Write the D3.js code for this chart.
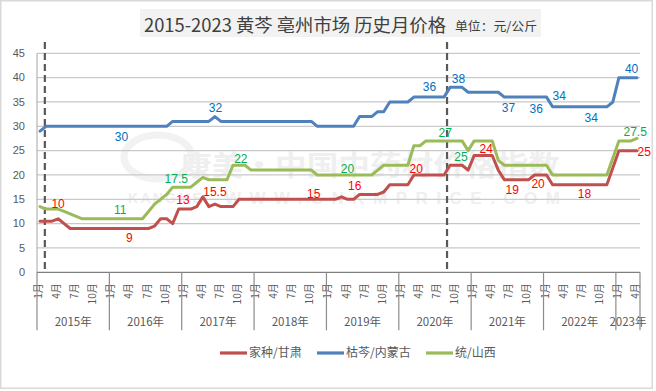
<!DOCTYPE html>
<html>
<head>
<meta charset="utf-8">
<script src="https://cdn.jsdelivr.net/npm/d3@7/dist/d3.min.js"></script>
<style>
  html, body { margin: 0; padding: 0; background: #fff; }
  svg { display: block; font-family: "Liberation Sans", Arial, "Noto Sans CJK SC", sans-serif; }
</style>
</head>
<body>
<svg id="chart" width="656" height="391"></svg>
<script>
// monthly prices, Jan 2015 .. Apr 2023 (yuan / kg)
const years = ['2015', '2016', '2017', '2018', '2019', '2020', '2021', '2022', '2023'];
const monthsPerYear = [12, 12, 12, 12, 12, 12, 12, 12, 4];
const monthTicks = { 1: '1月', 4: '4月', 7: '7月', 10: '10月' };

const jiazhong = [
  10.5, 10.5, 10.5, 11, 10, 9, 9, 9, 9, 9, 9, 9,
  9, 9, 9, 9, 9, 9, 9, 9.5, 11, 11, 10, 13,
  13, 13, 13.5, 15.5, 13.5, 14, 13.5, 13.5, 13.5, 15, 15, 15,
  15, 15, 15, 15, 15, 15, 15, 15, 15, 15, 15, 15,
  15, 15, 15.5, 15, 15, 16, 16, 16, 16, 16.5, 18, 18,
  18, 18, 20, 20, 20, 20, 20, 20, 22, 22, 22, 21,
  24, 24, 24, 24, 21, 19, 19, 19, 19, 19, 20, 20,
  20, 18, 18, 18, 18, 18, 18, 18, 18, 18, 18, 21.5,
  25, 25, 25, 25
];
const kuqin = [
  29, 30, 30, 30, 30, 30, 30, 30, 30, 30, 30, 30,
  30, 30, 30, 30, 30, 30, 30, 30, 30, 30, 31, 31,
  31, 31, 31, 31, 31, 32, 31, 31, 31, 31, 31, 31,
  31, 31, 31, 31, 31, 31, 31, 31, 31, 31, 30, 30,
  30, 30, 30, 30, 30, 32, 32, 32, 33, 33, 35, 35,
  35, 35, 36, 36, 36, 36, 36, 36, 38, 38, 38, 37,
  37, 37, 37, 37, 37, 36, 36, 36, 36, 36, 36, 36,
  36, 34, 34, 34, 34, 34, 34, 34, 34, 34, 34, 35,
  40, 40, 40, 40
];
const tong = [
  13.5, 13, 13, 13, 12.5, 12, 11.5, 11, 11, 11, 11, 11,
  11, 11, 11, 11, 11, 11, 12.5, 14, 15, 16, 17.5, 17.5,
  17.5, 17.5, 18.5, 19.5, 19, 19, 19, 19, 22, 22, 22, 21,
  21, 21, 21, 21, 21, 21, 21, 21, 21, 21, 20, 20,
  20, 20, 20, 20, 20, 20, 20, 20, 21, 22, 22, 22,
  22, 22, 26, 26, 27, 27, 27, 27, 27, 27, 27, 25,
  27, 27, 27, 27, 23, 22, 22, 22, 22, 22, 22, 22,
  22, 20, 20, 20, 20, 20, 20, 20, 20, 20, 20, 23.5,
  27, 27, 27, 27.5
];

const seriesNames = ['家种/甘肃', '枯芩/内蒙古', '统/山西'];
const seriesData = [jiazhong, kuqin, tong];
const lineColors = ['#C0504D', '#4F81BD', '#9BBB59'];
const labelColors = ['#FF0000', '#0070C0', '#00B050'];

// data labels: series, month index, text, vertical offset from the line
const dataLabels = [
  [1, 13.5, '30', 10], [1, 29.1, '32', -9], [1, 64.6, '36', -10], [1, 69.4, '38', -8.5],
  [1, 77.7, '37', 11], [1, 82.3, '36', 12], [1, 86.1, '34', -11], [1, 91.4, '34', 10.5],
  [1, 98.1, '40', -8.5],
  [2, 13.3, '11', -9], [2, 22.6, '17.5', -8], [2, 33.3, '22', -6.5], [2, 51, '20', -6.5],
  [2, 67.2, '27', -8.5], [2, 69.8, '25', 15.5], [2, 98.7, '27.5', -7],
  [0, 3, '10', -15], [0, 14.8, '9', 9], [0, 23.7, '13', -9], [0, 29, '15.5', -12],
  [0, 45.4, '15', -6], [0, 52.2, '16', -14], [0, 62.4, '20', -6.5], [0, 74, '24', -6.5],
  [0, 78.3, '19', 10], [0, 82.6, '20', 9], [0, 90.3, '18', 9.5], [0, 100.2, '25', 1]
];
// dashed reference lines (month index)
const markerMonths = [0.8, 67.5];

const yTicks = [0, 5, 10, 15, 20, 25, 30, 35, 40, 45];

// month categories
const categories = [];
years.forEach((y, yi) => {
  for (let m = 1; m <= monthsPerYear[yi]; m++) categories.push({ year: y, month: m });
});

const svg = d3.select('#chart');
const plot = { left: 37, right: 640, top: 53.3, bottom: 272.3 };

svg.append('rect')
  .attr('x', 0.75).attr('y', 0.75).attr('width', 651.5).attr('height', 387.5)
  .attr('fill', '#fff').attr('stroke', '#d9d9d9').attr('stroke-width', 1.5);

const x = d3.scaleLinear().domain([0, categories.length]).range([plot.left, plot.right]);
const xc = i => x(i + 0.5);
const y = d3.scaleLinear().domain([0, 45]).range([plot.bottom, plot.top]);

// title
const titleG = svg.append('g');
titleG.append('rect')
  .attr('x', 140).attr('y', 9).attr('width', 401).attr('height', 28)
  .attr('fill', '#f2f2f2');
titleG.append('text')
  .attr('x', 144).attr('y', 24)
  .attr('dominant-baseline', 'central')
  .attr('font-family', '"Noto Sans CJK SC", sans-serif')
  .attr('font-size', 18).attr('fill', '#404040')
  .attr('textLength', 302).attr('lengthAdjust', 'spacingAndGlyphs')
  .text('2015-2023 黄芩 亳州市场 历史月价格');
titleG.append('text')
  .attr('x', 455).attr('y', 25)
  .attr('dominant-baseline', 'central')
  .attr('font-family', '"Noto Sans CJK SC", sans-serif')
  .attr('font-size', 12.5).attr('fill', '#404040')
  .attr('textLength', 82).attr('lengthAdjust', 'spacingAndGlyphs')
  .text('单位：元/公斤');

// faint watermark
const wm = svg.append('g').attr('fill', '#efefef');
wm.append('ellipse')
  .attr('cx', 158).attr('cy', 157).attr('rx', 34).attr('ry', 22)
  .attr('fill', 'none').attr('stroke', '#f2f2f2').attr('stroke-width', 7);
wm.append('text')
  .attr('x', 180).attr('y', 164).attr('dominant-baseline', 'central')
  .attr('font-family', '"Noto Sans CJK SC", sans-serif').attr('font-weight', 'bold')
  .attr('font-size', 28).attr('textLength', 380).attr('lengthAdjust', 'spacingAndGlyphs')
  .text('康美·中国中药材价格指数');
wm.append('text')
  .attr('x', 128).attr('y', 198).attr('dominant-baseline', 'central')
  .attr('font-weight', 'bold').attr('font-size', 14)
  .attr('textLength', 80).attr('lengthAdjust', 'spacing')
  .text('KANGMEI');
wm.append('text')
  .attr('x', 225).attr('y', 198).attr('dominant-baseline', 'central')
  .attr('font-weight', 'bold').attr('font-size', 17)
  .attr('textLength', 335).attr('lengthAdjust', 'spacing')
  .text('WWW.CNKMPRICE.COM');

// grid + y axis labels
const grid = svg.append('g');
yTicks.forEach(t => {
  if (t > 0) {
    grid.append('line')
      .attr('x1', plot.left).attr('x2', plot.right)
      .attr('y1', y(t)).attr('y2', y(t))
      .attr('stroke', '#c9c9c9').attr('stroke-width', 1.3);
  }
  grid.append('text')
    .attr('x', 25).attr('y', y(t)).attr('dy', '0.35em')
    .attr('text-anchor', 'end').attr('font-size', 11).attr('fill', '#595959')
    .text(t);
});
grid.append('line')
  .attr('x1', plot.left).attr('x2', plot.left)
  .attr('y1', plot.top).attr('y2', plot.bottom)
  .attr('stroke', '#a6a6a6').attr('stroke-width', 1);

// x axis: months + years
const xa = svg.append('g');
xa.append('line')
  .attr('x1', plot.left).attr('x2', plot.right)
  .attr('y1', plot.bottom).attr('y2', plot.bottom)
  .attr('stroke', '#7f7f7f').attr('stroke-width', 1.3);

categories.forEach((c, i) => {
  if (!monthTicks[c.month]) return;
  const px = xc(i) - 1.5;
  xa.append('text')
    .attr('transform', `translate(${px},${plot.bottom + 11}) rotate(-90)`)
    .attr('text-anchor', 'end').attr('dy', '0.35em')
    .attr('font-family', '"Noto Sans CJK SC", sans-serif')
    .attr('font-size', 10).attr('fill', '#595959')
    .text(monthTicks[c.month]);
});

let start = 0;
years.forEach((yr, yi) => {
  const n = monthsPerYear[yi];
  xa.append('line')
    .attr('x1', x(start)).attr('x2', x(start))
    .attr('y1', plot.bottom).attr('y2', plot.bottom + 58)
    .attr('stroke', '#8c8c8c').attr('stroke-width', 1.2);
  xa.append('text')
    .attr('x', x(start + n / 2)).attr('y', 322).attr('dy', '0.35em')
    .attr('text-anchor', 'middle')
    .attr('font-family', '"Noto Sans CJK SC", sans-serif')
    .attr('font-size', 11.5).attr('fill', '#595959')
    .text(yr + '年');
  start += n;
});
xa.append('line')
  .attr('x1', x(start)).attr('x2', x(start))
  .attr('y1', plot.bottom).attr('y2', plot.bottom + 58)
  .attr('stroke', '#8c8c8c').attr('stroke-width', 1.2);

// dashed markers
markerMonths.forEach(m => {
  svg.append('line')
    .attr('x1', xc(m)).attr('x2', xc(m))
    .attr('y1', 42).attr('y2', 269)
    .attr('stroke', '#595959').attr('stroke-width', 2.2)
    .attr('stroke-dasharray', '7,4');
});

// series lines
const line = d3.line().x((d, i) => xc(i)).y(d => y(d));
seriesData.forEach((vals, si) => {
  svg.append('path')
    .datum(vals)
    .attr('d', line)
    .attr('fill', 'none')
    .attr('stroke', lineColors[si])
    .attr('stroke-width', 3)
    .attr('stroke-linejoin', 'round')
    .attr('stroke-linecap', 'round');
});

// data labels
dataLabels.forEach(([si, idx, txt, dy]) => {
  const vals = seriesData[si];
  const k = Math.min(vals.length - 1, Math.round(idx));
  svg.append('text')
    .attr('x', xc(idx)).attr('y', y(vals[k]) + dy)
    .attr('dy', '0.35em')
    .attr('text-anchor', 'middle')
    .attr('font-size', 12).attr('fill', labelColors[si])
    .text(txt);
});

// legend
const legendX = [220, 317, 426];
seriesNames.forEach((name, si) => {
  const lg = svg.append('g').attr('transform', `translate(${legendX[si]},353)`);
  lg.append('line')
    .attr('x1', 0).attr('x2', 27).attr('y1', 0).attr('y2', 0)
    .attr('stroke', lineColors[si]).attr('stroke-width', 3.2);
  lg.append('text')
    .attr('x', 29).attr('y', 0).attr('dy', '0.35em')
    .attr('font-family', '"Noto Sans CJK SC", sans-serif')
    .attr('font-size', 12).attr('fill', '#595959')
    .text(name);
});
</script>
</body>
</html>
